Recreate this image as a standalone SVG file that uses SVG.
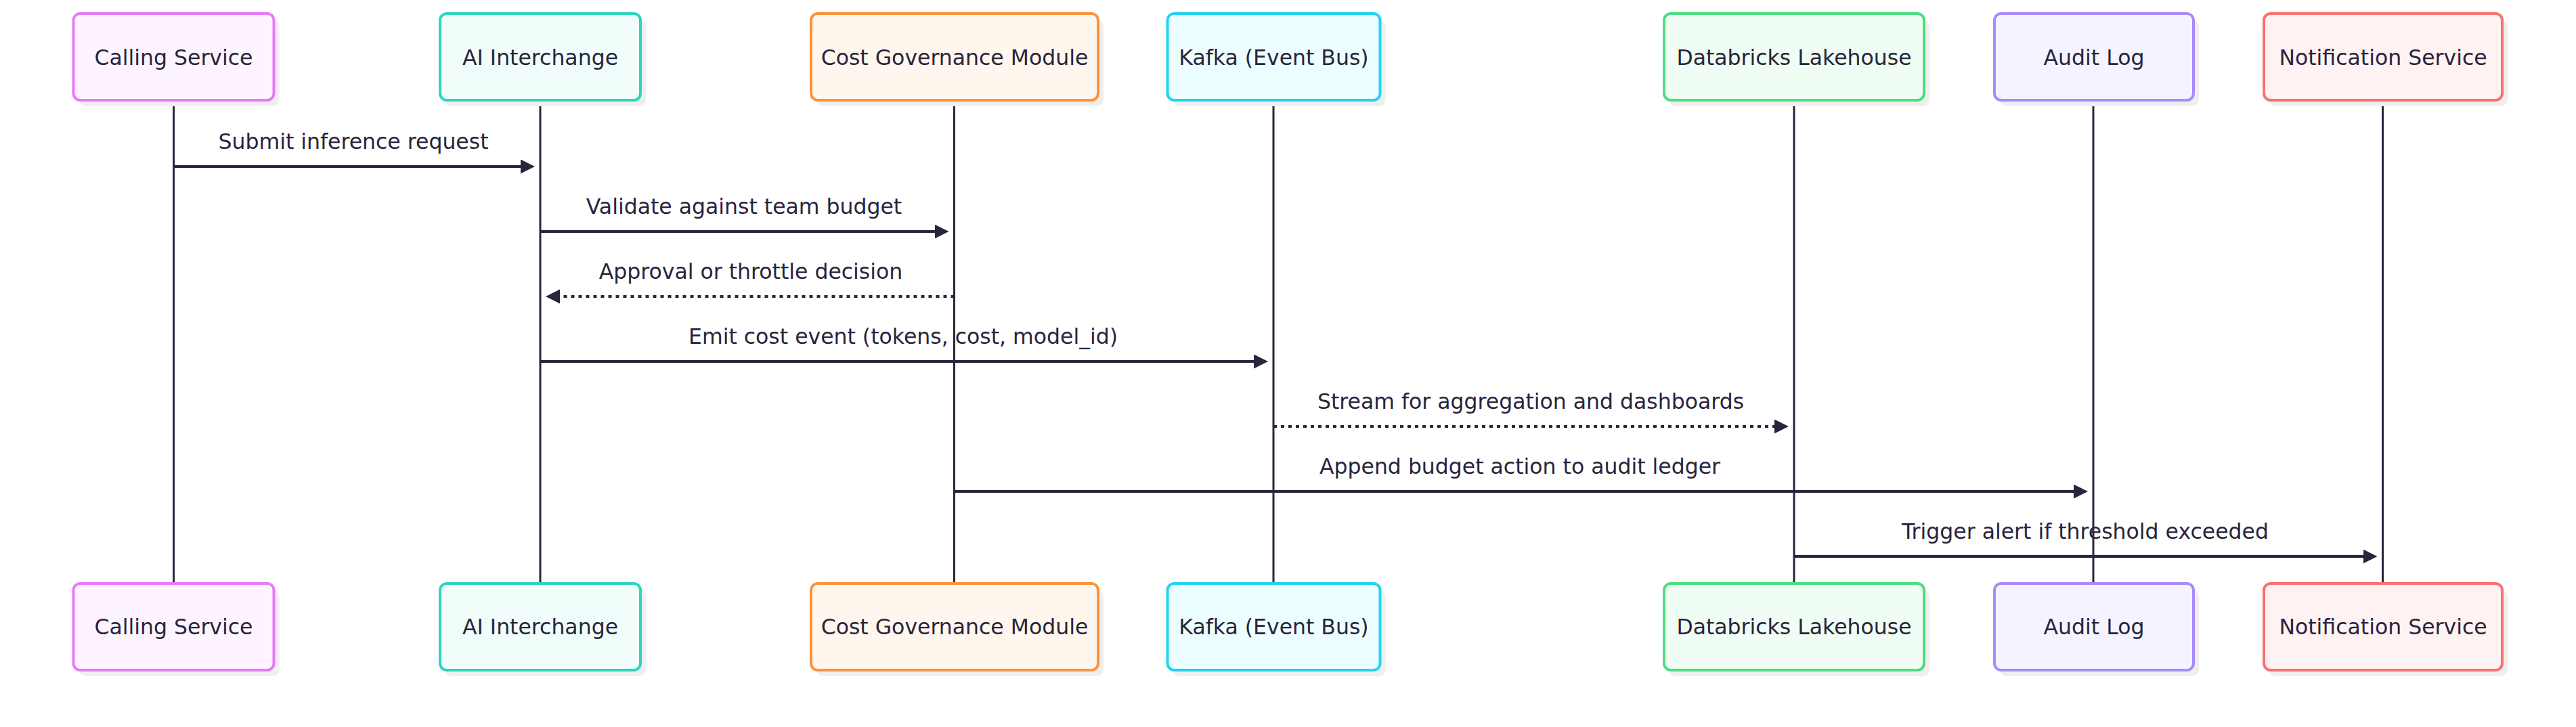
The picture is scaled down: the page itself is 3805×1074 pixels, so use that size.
<svg xmlns="http://www.w3.org/2000/svg" width="3805" height="1074" viewBox="0 0 3805 1074">
<style>
  .bg { fill: #ffffff; }
  .shadow { fill: #efefef; }
  .box { stroke-width: 4; }
  .label { font-family: "DejaVu Sans", "Liberation Sans", sans-serif; font-size: 31.5px; fill: #28253c; text-anchor: middle; }
  .lifeline { stroke: #28253c; stroke-width: 3; fill: none; }
  .msg { stroke: #28253c; stroke-width: 4; fill: none; marker-end: url(#arrow); }
  .dotted { stroke-dasharray: 5 6; }
</style>
<defs>
  <marker id="arrow" markerUnits="userSpaceOnUse" markerWidth="22" markerHeight="22" viewBox="0 0 22 22" refX="11" refY="10.5" orient="auto">
    <path d="M0,0 L21,10.5 L0,21 z" fill="#28253c"/>
  </marker>
</defs>
<rect class="bg" x="0" y="0" width="3805" height="1074"/>

<g id="lifelines">
  <line class="lifeline" x1="256.5" y1="150" x2="256.5" y2="862"/>
  <line class="lifeline" x1="798" y1="150" x2="798" y2="862"/>
  <line class="lifeline" x1="1409.5" y1="150" x2="1409.5" y2="862"/>
  <line class="lifeline" x1="1881" y1="150" x2="1881" y2="862"/>
  <line class="lifeline" x1="2650" y1="150" x2="2650" y2="862"/>
  <line class="lifeline" x1="3092" y1="150" x2="3092" y2="862"/>
  <line class="lifeline" x1="3519.5" y1="150" x2="3519.5" y2="862"/>
</g>

<g id="calling-service">
  <rect class="shadow" x="116.5" y="29" width="296" height="128" rx="10"/>
  <rect class="box" x="108.5" y="20" width="296" height="128" rx="10" fill="#fdf4ff" stroke="#e879f9"/>
  <text class="label" x="256.5" y="96">Calling Service</text>
  <rect class="shadow" x="116.5" y="871" width="296" height="128" rx="10"/>
  <rect class="box" x="108.5" y="862" width="296" height="128" rx="10" fill="#fdf4ff" stroke="#e879f9"/>
  <text class="label" x="256.5" y="937">Calling Service</text>
</g>

<g id="ai-interchange">
  <rect class="shadow" x="658" y="29" width="296" height="128" rx="10"/>
  <rect class="box" x="650" y="20" width="296" height="128" rx="10" fill="#f0fdfa" stroke="#2dd4bf"/>
  <text class="label" x="798" y="96">AI Interchange</text>
  <rect class="shadow" x="658" y="871" width="296" height="128" rx="10"/>
  <rect class="box" x="650" y="862" width="296" height="128" rx="10" fill="#f0fdfa" stroke="#2dd4bf"/>
  <text class="label" x="798" y="937">AI Interchange</text>
</g>

<g id="cost-governance">
  <rect class="shadow" x="1206" y="29" width="424" height="128" rx="10"/>
  <rect class="box" x="1198" y="20" width="424" height="128" rx="10" fill="#fff7ed" stroke="#fb923c"/>
  <text class="label" x="1410" y="96">Cost Governance Module</text>
  <rect class="shadow" x="1206" y="871" width="424" height="128" rx="10"/>
  <rect class="box" x="1198" y="862" width="424" height="128" rx="10" fill="#fff7ed" stroke="#fb923c"/>
  <text class="label" x="1410" y="937">Cost Governance Module</text>
</g>

<g id="kafka">
  <rect class="shadow" x="1732.5" y="29" width="314" height="128" rx="10"/>
  <rect class="box" x="1724.5" y="20" width="314" height="128" rx="10" fill="#ecfeff" stroke="#22d3ee"/>
  <text class="label" x="1881.5" y="96">Kafka (Event Bus)</text>
  <rect class="shadow" x="1732.5" y="871" width="314" height="128" rx="10"/>
  <rect class="box" x="1724.5" y="862" width="314" height="128" rx="10" fill="#ecfeff" stroke="#22d3ee"/>
  <text class="label" x="1881.5" y="937">Kafka (Event Bus)</text>
</g>

<g id="databricks">
  <rect class="shadow" x="2466" y="29" width="384" height="128" rx="10"/>
  <rect class="box" x="2458" y="20" width="384" height="128" rx="10" fill="#f0fdf4" stroke="#4ade80"/>
  <text class="label" x="2650" y="96">Databricks Lakehouse</text>
  <rect class="shadow" x="2466" y="871" width="384" height="128" rx="10"/>
  <rect class="box" x="2458" y="862" width="384" height="128" rx="10" fill="#f0fdf4" stroke="#4ade80"/>
  <text class="label" x="2650" y="937">Databricks Lakehouse</text>
</g>

<g id="audit-log">
  <rect class="shadow" x="2954" y="29" width="294" height="128" rx="10"/>
  <rect class="box" x="2946" y="20" width="294" height="128" rx="10" fill="#f5f3ff" stroke="#a78bfa"/>
  <text class="label" x="3093" y="96">Audit Log</text>
  <rect class="shadow" x="2954" y="871" width="294" height="128" rx="10"/>
  <rect class="box" x="2946" y="862" width="294" height="128" rx="10" fill="#f5f3ff" stroke="#a78bfa"/>
  <text class="label" x="3093" y="937">Audit Log</text>
</g>

<g id="notification-service">
  <rect class="shadow" x="3352" y="29" width="352" height="128" rx="10"/>
  <rect class="box" x="3344" y="20" width="352" height="128" rx="10" fill="#fef2f2" stroke="#f87171"/>
  <text class="label" x="3520" y="96">Notification Service</text>
  <rect class="shadow" x="3352" y="871" width="352" height="128" rx="10"/>
  <rect class="box" x="3344" y="862" width="352" height="128" rx="10" fill="#fef2f2" stroke="#f87171"/>
  <text class="label" x="3520" y="937">Notification Service</text>
</g>

<g id="connectors">
  <text class="label" x="522" y="220">Submit inference request</text>
  <line class="msg" x1="256.5" y1="246" x2="780" y2="246"/>

  <text class="label" x="1099" y="316">Validate against team budget</text>
  <line class="msg" x1="798" y1="342" x2="1391.5" y2="342"/>

  <text class="label" x="1109" y="412">Approval or throttle decision</text>
  <line class="msg dotted" x1="1409.5" y1="438" x2="816" y2="438"/>

  <text class="label" x="1334" y="508">Emit cost event (tokens, cost, model_id)</text>
  <line class="msg" x1="798" y1="534" x2="1863" y2="534"/>

  <text class="label" x="2261" y="604">Stream for aggregation and dashboards</text>
  <line class="msg dotted" x1="1881" y1="630" x2="2632" y2="630"/>

  <text class="label" x="2245" y="700">Append budget action to audit ledger</text>
  <line class="msg" x1="1409.5" y1="726" x2="3074" y2="726"/>

  <text class="label" x="3080" y="796">Trigger alert if threshold exceeded</text>
  <line class="msg" x1="2650" y1="822" x2="3501.5" y2="822"/>
</g>
</svg>
